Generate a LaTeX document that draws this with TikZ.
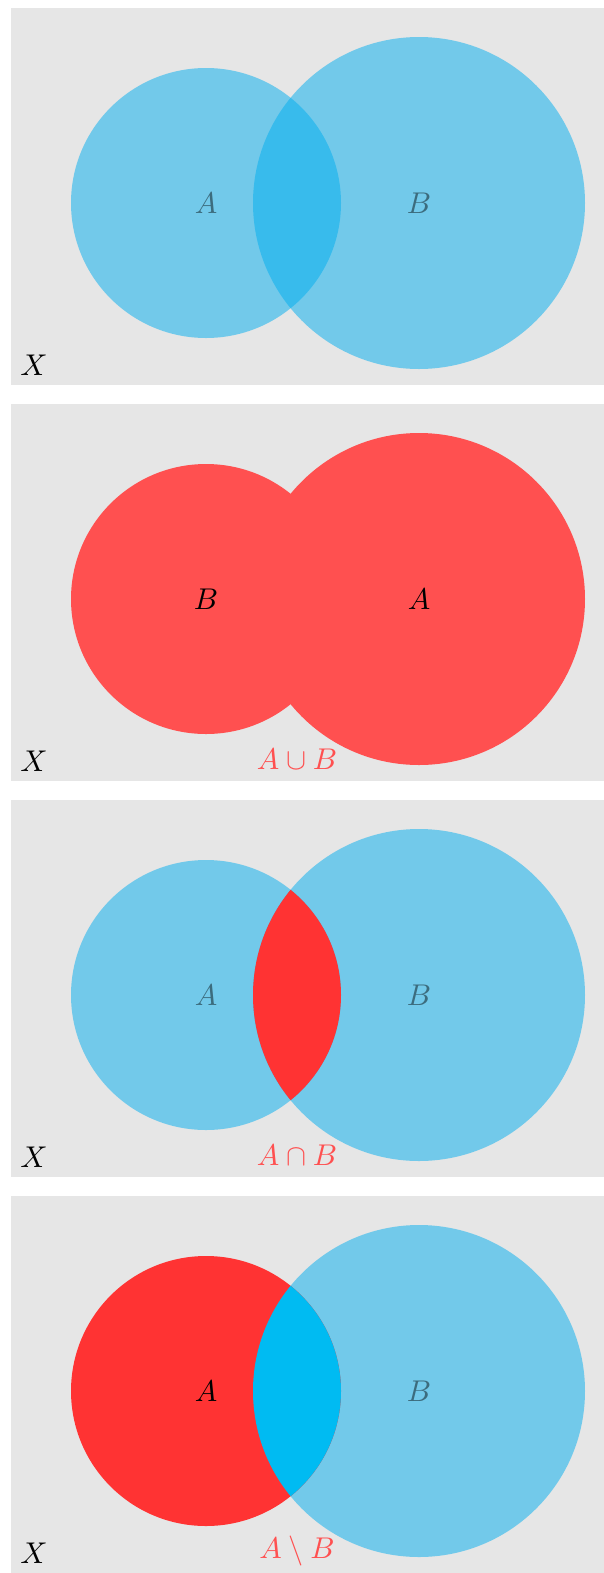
\documentclass[tikz,border=0pt]{standalone}
\definecolor{panelgray}{RGB}{230,230,230}
\definecolor{setcyan}{RGB}{0,174,239}
\definecolor{lenscyan}{RGB}{0,187,242}
\definecolor{unionred}{RGB}{255,80,80}
\definecolor{setred}{RGB}{255,51,51}
\definecolor{slate}{RGB}{60,108,126}
\tikzset{
  panel/.style={fill=panelgray},
  semicyan/.style={fill=setcyan, fill opacity=0.5},
  lbl/.style={inner sep=0pt, anchor=center},
  slatelbl/.style={lbl, text=slate},
  blacklbl/.style={lbl, text=black},
  oplbl/.style={lbl, text=unionred},
}
\begin{document}
\begin{tikzpicture}[x=0.3333pt, y=-0.3333pt]
\useasboundingbox (0,0) rectangle (604,1573);
% Panel 1
\begin{scope}
  \fill[panel] (11,8) rectangle (604,385);
  \fill[semicyan] (206,203) circle[radius=135];
  \fill[semicyan] (419,203) circle[radius=166];
  \node[slatelbl] (a1) at (206,203) {$A$};
  \node[slatelbl] (b1) at (419,203) {$B$};
  \node[blacklbl] (x1) at (34,365) {$X$};
\end{scope}
% Panel 2
\begin{scope}[yshift=-396*0.3333pt]
  \fill[panel] (11,8) rectangle (604,385);
  \fill[unionred] (206,203) circle[radius=135];
  \fill[unionred] (419,203) circle[radius=166];
  \node[blacklbl] (b2) at (206,203) {$B$};
  \node[blacklbl] (a2) at (419,203) {$A$};
  \node[blacklbl] (x2) at (34,365) {$X$};
  \node[oplbl] (u2) at (297,363) {$A\cup B$};
\end{scope}
% Panel 3
\begin{scope}[yshift=-792*0.3333pt]
  \fill[panel] (11,8) rectangle (604,385);
  \fill[semicyan] (206,203) circle[radius=135];
  \fill[semicyan] (419,203) circle[radius=166];
  \begin{scope}
    \clip (206,203) circle[radius=135];
    \fill[setred] (419,203) circle[radius=166];
  \end{scope}
  \node[slatelbl] (a3) at (206,203) {$A$};
  \node[slatelbl] (b3) at (419,203) {$B$};
  \node[blacklbl] (x3) at (34,365) {$X$};
  \node[oplbl] (i3) at (297,363) {$A\cap B$};
\end{scope}
% Panel 4
\begin{scope}[yshift=-1188*0.3333pt]
  \fill[panel] (11,8) rectangle (604,385);
  \fill[semicyan] (419,203) circle[radius=166];
  \fill[setred] (206,203) circle[radius=135];
  \begin{scope}
    \clip (206,203) circle[radius=135];
    \fill[lenscyan] (419,203) circle[radius=166];
  \end{scope}
  \node[blacklbl] (a4) at (206,203) {$A$};
  \node[slatelbl] (b4) at (419,203) {$B$};
  \node[blacklbl] (x4) at (34,365) {$X$};
  \node[oplbl] (d4) at (297,363) {$A\setminus B$};
\end{scope}
\end{tikzpicture}
\end{document}
